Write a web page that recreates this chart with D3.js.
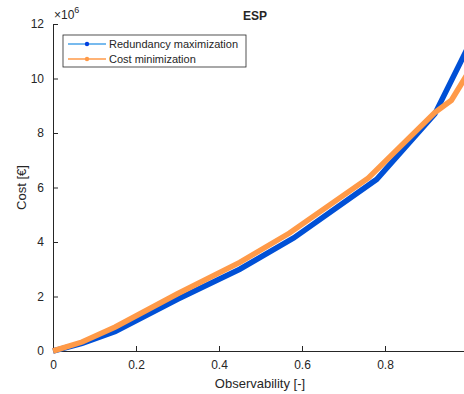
<!DOCTYPE html>
<html>
<head>
<meta charset="utf-8">
<script src="https://cdn.jsdelivr.net/npm/d3@7"></script>
<style>
  body { margin: 0; background: #fff; }
  text { font-family: "Liberation Sans", Arial, sans-serif; fill: #262626; }
</style>
</head>
<body>
<div id="chart"></div>
<script>
// values (cost in units of 1e6)
const redundancyX = [0, 0.07, 0.15, 0.3, 0.45, 0.58, 0.78, 0.92, 1.0];
const redundancyY = [0, 0.28, 0.72, 1.9, 3.0, 4.15, 6.3, 8.7, 11.15];
const costX = [0, 0.07, 0.15, 0.3, 0.45, 0.57, 0.76, 0.92, 0.96, 1.0];
const costY = [0, 0.33, 0.88, 2.1, 3.25, 4.33, 6.35, 8.75, 9.2, 10.2];
const xTicks = [0, 0.2, 0.4, 0.6, 0.8];
const yTicks = [0, 2, 4, 6, 8, 10, 12];
const seriesNames = ['Redundancy maximization', 'Cost minimization'];

const width = 464;
const height = 394;
const margin = {top: 24, right: -4, bottom: 43, left: 53};

const svg = d3.select('#chart')
  .append('svg')
  .attr('width', width)
  .attr('height', height);

const x = d3.scaleLinear().domain([0, 1]).range([margin.left, width - margin.right]);
const y = d3.scaleLinear().domain([0, 12]).range([height - margin.bottom, margin.top]);

const axisColor = '#262626';

// x axis, ticks pointing inward
const gx = svg.append('g')
  .attr('transform', 'translate(0,' + y(0) + ')')
  .call(d3.axisBottom(x).tickValues(xTicks).tickSizeInner(-5).tickSizeOuter(0).tickPadding(9)
    .tickFormat(d => d === 0 ? '0' : d3.format('.1f')(d)));
gx.select('.domain').attr('stroke', axisColor);
gx.selectAll('.tick line').attr('stroke', axisColor);
gx.selectAll('text').style('font-size', '12px').attr('fill', axisColor);

const gy = svg.append('g')
  .attr('transform', 'translate(' + x(0) + ',0)')
  .call(d3.axisLeft(y).tickValues(yTicks).tickSizeInner(-5).tickSizeOuter(0).tickPadding(9));
gy.select('.domain').attr('stroke', axisColor);
gy.selectAll('.tick line').attr('stroke', axisColor);
gy.selectAll('text').style('font-size', '12px').attr('fill', axisColor);

// exponent label
const expo = svg.append('text')
  .attr('x', x(0) + 1)
  .attr('y', 19)
  .style('font-size', '12px');
expo.append('tspan').text('\u00d710');
expo.append('tspan').attr('dy', -6).style('font-size', '9px').text('6');

// title and axis labels
svg.append('text')
  .attr('x', 255)
  .attr('y', 20)
  .attr('text-anchor', 'middle')
  .style('font-size', '12px')
  .style('font-weight', 'bold')
  .text('ESP');

svg.append('text')
  .attr('x', 260)
  .attr('y', 388)
  .attr('text-anchor', 'middle')
  .style('font-size', '13px')
  .text('Observability [-]');

svg.append('text')
  .attr('transform', 'translate(26,' + y(6) + ') rotate(-90)')
  .attr('text-anchor', 'middle')
  .style('font-size', '13px')
  .text('Cost [\u20ac]');

const line = d3.line()
  .x(d => x(d[0]))
  .y(d => y(d[1]));

const blue = '#0050d6';
const orange = '#ff9a48';

svg.append('path')
  .datum(d3.zip(redundancyX, redundancyY))
  .attr('fill', 'none')
  .attr('stroke', blue)
  .attr('stroke-width', 5.5)
  .attr('d', line);

svg.append('path')
  .datum(d3.zip(costX, costY))
  .attr('fill', 'none')
  .attr('stroke', orange)
  .attr('stroke-width', 5.5)
  .attr('d', line);

// legend
const legend = svg.append('g').attr('transform', 'translate(63,35)');
legend.append('rect')
  .attr('width', 183)
  .attr('height', 32)
  .attr('fill', '#fff')
  .attr('stroke', '#262626')
  .attr('stroke-width', 0.8);

const legendLine = ['#4aa3e8', orange];
const legendMark = ['#0040e0', orange];
seriesNames.forEach((name, i) => {
  const ly = 9 + i * 15;
  legend.append('line')
    .attr('x1', 5).attr('x2', 43)
    .attr('y1', ly).attr('y2', ly)
    .attr('stroke', legendLine[i])
    .attr('stroke-width', 1.5);
  legend.append('circle')
    .attr('cx', 24).attr('cy', ly).attr('r', 2.2)
    .attr('fill', legendMark[i]);
  legend.append('text')
    .attr('x', 46)
    .attr('y', ly + 4)
    .style('font-size', '11px')
    .text(name);
});
</script>
</body>
</html>
